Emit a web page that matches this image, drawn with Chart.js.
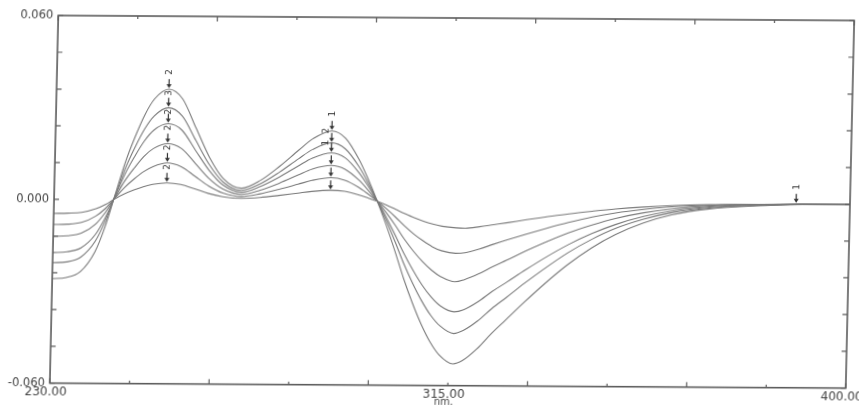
<!DOCTYPE html>
<html>
<head>
<meta charset="utf-8">
<script src="https://cdn.jsdelivr.net/npm/chart.js@4.4.1/dist/chart.umd.min.js"></script>
<style>
  html, body { margin: 0; padding: 0; background: #fff; overflow: hidden; }
  /* the printout sits slightly askew on the page */
  #wrap {
    position: absolute; left: 0; top: 0; width: 875px; height: 413px;
    transform-origin: 452px 201px;
    transform: matrix(1, 0.0063, -0.023, 1, 0, 0);
  }
</style>
</head>
<body>
<div id="wrap"><canvas id="spectrum"></canvas></div>
<script>
// wavelength grid (nm), shared by all six traces
const wavelengths = [230, 233, 236, 239, 241, 243, 245, 247, 249, 251,
  254, 257, 260, 263, 266, 270, 274, 278, 282, 285,
  289, 292, 295, 297, 299, 301, 303, 305, 307, 309,
  311, 313, 316, 318, 321, 324, 327, 331, 335, 340,
  345, 350, 356, 362, 370, 380, 390, 400];

// derivative traces, smallest to largest
const curve1 = [-0.0046, -0.0045, -0.0042, -0.0030, -0.0016, 0.0003, 0.0019, 0.0032, 0.0043, 0.0051,
  0.0056, 0.0051, 0.0037, 0.0022, 0.0012, 0.0007, 0.0010, 0.0017, 0.0025, 0.0031,
  0.0035, 0.0032, 0.0021, 0.0011, 0.0000, -0.0012, -0.0026, -0.0040, -0.0053, -0.0064,
  -0.0073, -0.0080, -0.0085, -0.0086, -0.0081, -0.0074, -0.0067, -0.0057, -0.0048, -0.0037,
  -0.0028, -0.0020, -0.0013, -0.0008, -0.0004, -0.0002, -0.0001, 0.0000];
const curve2 = [-0.0082, -0.0081, -0.0075, -0.0054, -0.0029, 0.0005, 0.0040, 0.0068, 0.0092, 0.0109,
  0.0121, 0.0109, 0.0078, 0.0046, 0.0024, 0.0013, 0.0022, 0.0037, 0.0054, 0.0067,
  0.0076, 0.0068, 0.0045, 0.0024, 0.0001, -0.0024, -0.0051, -0.0080, -0.0106, -0.0128,
  -0.0147, -0.0160, -0.0168, -0.0166, -0.0154, -0.0138, -0.0123, -0.0104, -0.0086, -0.0065,
  -0.0047, -0.0033, -0.0021, -0.0012, -0.0006, -0.0002, -0.0001, 0.0000];
const curve3 = [-0.0121, -0.0119, -0.0110, -0.0080, -0.0042, 0.0007, 0.0061, 0.0104, 0.0142, 0.0168,
  0.0184, 0.0168, 0.0120, 0.0071, 0.0037, 0.0020, 0.0034, 0.0057, 0.0084, 0.0104,
  0.0116, 0.0104, 0.0069, 0.0037, 0.0001, -0.0037, -0.0078, -0.0123, -0.0162, -0.0196,
  -0.0224, -0.0245, -0.0261, -0.0254, -0.0235, -0.0211, -0.0189, -0.0159, -0.0131, -0.0099,
  -0.0073, -0.0051, -0.0032, -0.0019, -0.0009, -0.0003, -0.0001, 0.0000];
const curve4 = [-0.0174, -0.0171, -0.0158, -0.0114, -0.0060, 0.0010, 0.0083, 0.0141, 0.0192, 0.0228,
  0.0249, 0.0228, 0.0162, 0.0097, 0.0050, 0.0027, 0.0046, 0.0077, 0.0114, 0.0140,
  0.0157, 0.0141, 0.0093, 0.0050, 0.0001, -0.0051, -0.0109, -0.0170, -0.0224, -0.0272,
  -0.0311, -0.0340, -0.0359, -0.0352, -0.0326, -0.0292, -0.0262, -0.0221, -0.0182, -0.0138,
  -0.0101, -0.0071, -0.0044, -0.0026, -0.0012, -0.0005, -0.0001, 0.0000];
const curve5 = [-0.0207, -0.0204, -0.0188, -0.0136, -0.0072, 0.0012, 0.0100, 0.0170, 0.0231, 0.0274,
  0.0301, 0.0274, 0.0195, 0.0116, 0.0060, 0.0033, 0.0055, 0.0093, 0.0137, 0.0168,
  0.0190, 0.0170, 0.0112, 0.0060, 0.0002, -0.0061, -0.0130, -0.0203, -0.0267, -0.0324,
  -0.0371, -0.0405, -0.0430, -0.0420, -0.0389, -0.0348, -0.0312, -0.0263, -0.0217, -0.0164,
  -0.0120, -0.0084, -0.0053, -0.0031, -0.0015, -0.0006, -0.0002, 0.0000];
const curve6 = [-0.0259, -0.0255, -0.0235, -0.0170, -0.0090, 0.0015, 0.0120, 0.0205, 0.0278, 0.0330,
  0.0362, 0.0330, 0.0235, 0.0140, 0.0072, 0.0040, 0.0066, 0.0112, 0.0165, 0.0203,
  0.0229, 0.0205, 0.0135, 0.0072, 0.0002, -0.0075, -0.0160, -0.0250, -0.0330, -0.0400,
  -0.0458, -0.0500, -0.0529, -0.0518, -0.0480, -0.0430, -0.0385, -0.0325, -0.0268, -0.0203,
  -0.0148, -0.0104, -0.0065, -0.0038, -0.0018, -0.0007, -0.0002, 0.0000];
const series = [curve1, curve2, curve3, curve4, curve5, curve6];

// axis labels
const xLabelValues = [230, 315, 400];
const yLabelValues = [-0.06, 0, 0.06];
const xUnit = 'nm.';

// peak picks: wavelength of each pick and the digits printed next to its arrow
const peakWavelengths = [254, 289];
const peakAboveLabels = [['', '', '', '', '', '2'], ['', '', '', '', '', '1']];
const peakBelowLabels = [['', '2', '2', '2', '2', '3'], ['', '', '', '', '', '']];
const peakLeftLabels = [['', '', '', '', '', ''], ['', '', '', '', '1', '2']];
const baselinePickNm = 388.5;
const baselinePickLabel = '1';

const inkColor = '#444';
const traceColor = '#7a7a7a';

const marks = [];
peakWavelengths.forEach((nm, p) => {
  const idx = wavelengths.indexOf(nm);
  series.forEach((s, c) => {
    marks.push({ x: nm, y: s[idx], above: peakAboveLabels[p][c], below: peakBelowLabels[p][c], left: peakLeftLabels[p][c] });
  });
});
marks.push({ x: baselinePickNm, y: 0, above: baselinePickLabel, below: '', left: '' });

// box around the plot with inward ticks on all four sides, plus the unit under the middle label
const frameTicks = {
  id: 'frameTicks',
  afterDraw(chart) {
    const { ctx, chartArea: a, scales: { x, y } } = chart;
    ctx.save();
    ctx.strokeStyle = '#5c5c5c';
    ctx.lineWidth = 1.6;
    ctx.strokeRect(a.left, a.top, a.right - a.left, a.bottom - a.top);
    ctx.lineWidth = 1.2;
    ctx.beginPath();
    x.ticks.forEach((t, i) => {
      const px = x.getPixelForValue(t.value);
      const len = i % 2 ? 3 : 5;
      ctx.moveTo(px, a.bottom); ctx.lineTo(px, a.bottom - len);
      ctx.moveTo(px, a.top); ctx.lineTo(px, a.top + len);
    });
    y.ticks.forEach(t => {
      const py = y.getPixelForValue(t.value);
      ctx.moveTo(a.left, py); ctx.lineTo(a.left + 5, py);
      ctx.moveTo(a.right, py); ctx.lineTo(a.right - 5, py);
    });
    ctx.stroke();
    ctx.fillStyle = inkColor;
    ctx.font = '10px "DejaVu Sans"';
    ctx.textAlign = 'center';
    ctx.textBaseline = 'middle';
    ctx.fillText(xUnit, (a.left + a.right) / 2 - 4, a.bottom + 17);
    ctx.restore();
  }
};

function verticalText(ctx, text, px, py) {
  ctx.save();
  ctx.translate(px, py);
  ctx.rotate(-Math.PI / 2);
  ctx.fillText(text, 0, 0);
  ctx.restore();
}

// little down arrows on the picked peaks
const peakArrows = {
  id: 'peakArrows',
  afterDatasetsDraw(chart) {
    const { ctx, scales: { x, y } } = chart;
    ctx.save();
    ctx.strokeStyle = '#333';
    ctx.fillStyle = '#333';
    ctx.lineWidth = 1.2;
    ctx.font = '9px "DejaVu Sans"';
    ctx.textAlign = 'center';
    ctx.textBaseline = 'middle';
    marks.forEach(m => {
      const px = x.getPixelForValue(m.x);
      const py = y.getPixelForValue(m.y);
      ctx.beginPath();
      ctx.moveTo(px, py - 10);
      ctx.lineTo(px, py - 4);
      ctx.stroke();
      ctx.beginPath();
      ctx.moveTo(px - 2.5, py - 5);
      ctx.lineTo(px + 2.5, py - 5);
      ctx.lineTo(px, py - 1);
      ctx.closePath();
      ctx.fill();
      if (m.above) verticalText(ctx, m.above, px, py - 17);
      if (m.below) verticalText(ctx, m.below, px, py + 4);
      if (m.left) verticalText(ctx, m.left, px - 6, py);
    });
    ctx.restore();
  }
};

new Chart(document.getElementById('spectrum'), {
  type: 'line',
  data: {
    datasets: series.map(s => ({
      data: wavelengths.map((w, i) => ({ x: w, y: s[i] })),
      borderColor: traceColor,
      borderWidth: 1.1,
      pointRadius: 0,
      cubicInterpolationMode: 'monotone',
      fill: false
    }))
  },
  options: {
    responsive: true,
    maintainAspectRatio: false,
    animation: false,
    layout: { padding: { left: 7, top: 18, right: 0, bottom: 8.5 } },
    plugins: { legend: { display: false }, tooltip: { enabled: false } },
    scales: {
      x: {
        type: 'linear',
        min: 230,
        max: 400,
        grid: { display: false, drawTicks: false },
        border: { display: false },
        ticks: {
          stepSize: 17,
          autoSkip: false,
          maxRotation: 0,
          padding: 4,
          labelOffset: -4,
          color: inkColor,
          font: { family: 'DejaVu Sans', size: 12, lineHeight: 0.9 },
          callback: v => xLabelValues.some(l => Math.abs(l - v) < 1e-6) ? Number(v).toFixed(2) : ''
        }
      },
      y: {
        min: -0.06,
        max: 0.06,
        grid: { display: false, drawTicks: false },
        border: { display: false },
        ticks: {
          stepSize: 0.012,
          autoSkip: false,
          padding: 5,
          color: inkColor,
          font: { family: 'DejaVu Sans', size: 11.5 },
          callback: v => yLabelValues.some(l => Math.abs(l - v) < 1e-6) ? (Math.abs(v) < 1e-6 ? 0 : v).toFixed(3) : ''
        }
      }
    }
  },
  plugins: [frameTicks, peakArrows]
});
</script>
</body>
</html>
